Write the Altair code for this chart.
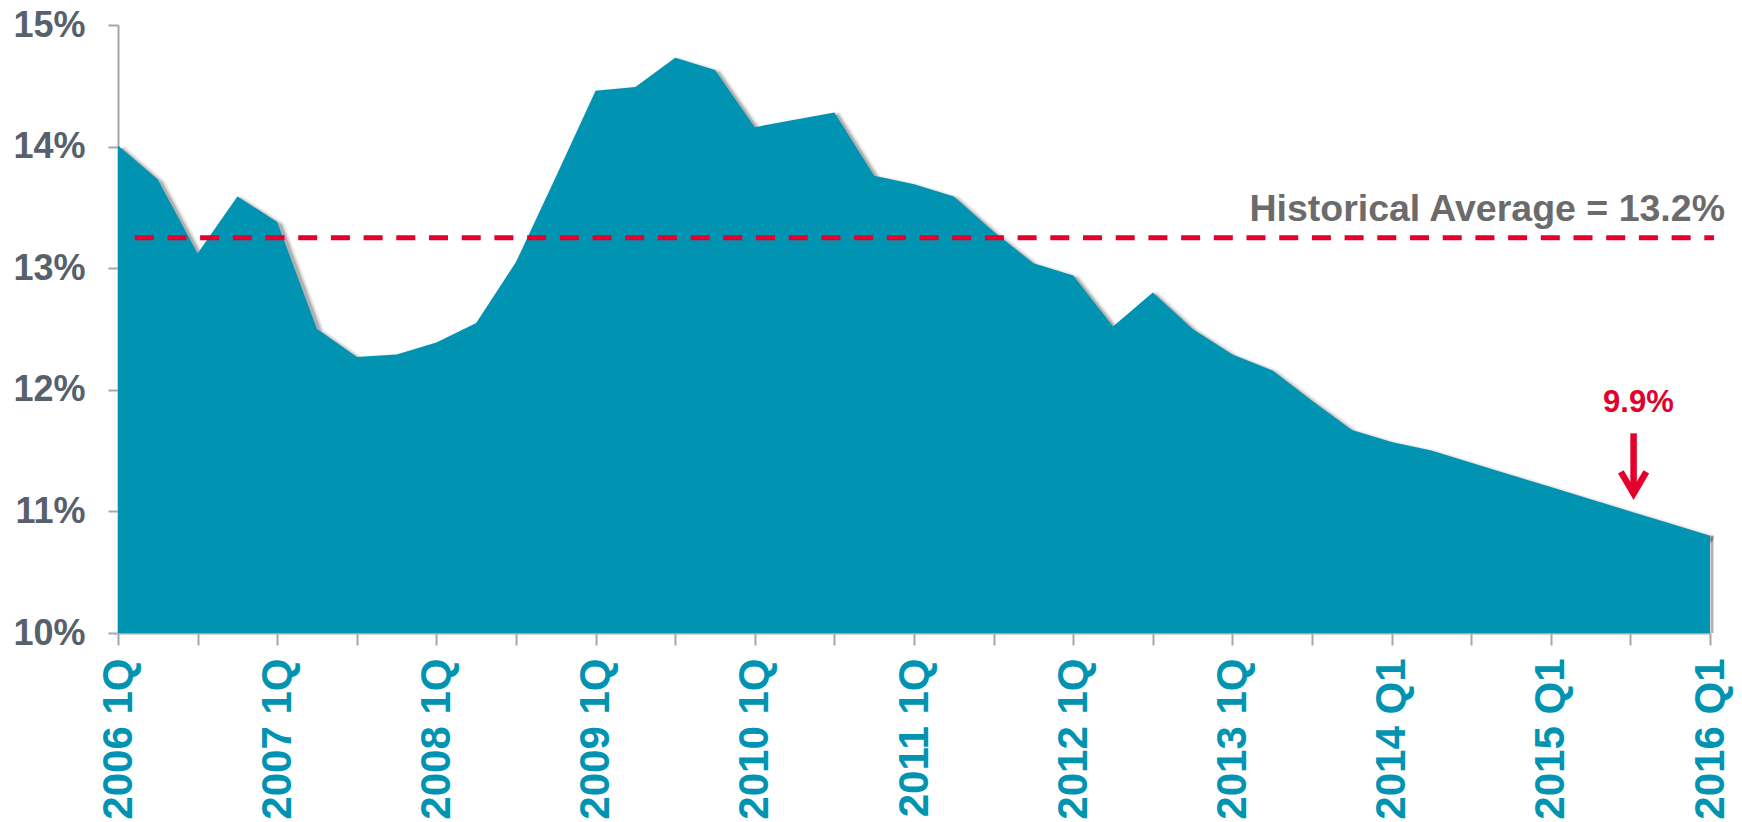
import altair as alt
import pandas as pd

# Quarterly series, 2006 Q1 through 2016 Q1 (percent)
quarter_index = list(range(41))
rate_values = [
    14.01, 13.73, 13.12, 13.59,
    13.38, 12.50, 12.27, 12.29,
    12.39, 12.55, 13.05, 13.75,
    14.46, 14.49, 14.73, 14.63,
    14.16, 14.22, 14.28, 13.76,
    13.69, 13.59, 13.30, 13.04,
    12.94, 12.52, 12.80, 12.50,
    12.29, 12.16, 11.91, 11.67,
    11.57, 11.50, 11.40, 11.30,
    11.20, 11.10, 11.00, 10.90,
    10.80,
]

# Labels shown on the first quarter of each year
year_labels = [
    "2006 1Q", "2007 1Q", "2008 1Q", "2009 1Q", "2010 1Q", "2011 1Q",
    "2012 1Q", "2013 1Q", "2014 Q1", "2015 Q1", "2016 Q1",
]
y_ticks = [10, 11, 12, 13, 14, 15]

historical_avg = 13.25
callout_text = "9.9%"

TEAL = "#0093B2"
RED = "#E4002B"
AXIS_GRAY = "#A6A6A6"
FONT = "Liberation Sans"

series = pd.DataFrame({"q": quarter_index, "rate": rate_values})

# x-axis label expression built from the year label list
label_expr = "''"
for i, lab in reversed(list(enumerate(year_labels))):
    label_expr = f"datum.value == {i * 4} ? '{lab}' : ({label_expr})"

x_enc = alt.X(
    "q:Q",
    scale=alt.Scale(domain=[0, 40], nice=False, zero=False),
    axis=alt.Axis(
        title=None,
        values=quarter_index,
        labelExpr=label_expr,
        labelAngle=-90,
        labelFont=FONT,
        labelFontSize=42,
        labelFontWeight="bold",
        labelColor=TEAL,
        labelPadding=13,
        labelOverlap=False,
        labelFlush=False,
        labelBound=False,
        tickSize=12,
        tickWidth=2,
        tickColor=AXIS_GRAY,
        domainColor=AXIS_GRAY,
        domainWidth=2,
        grid=False,
    ),
)
y_enc = alt.Y(
    "rate:Q",
    scale=alt.Scale(domain=[10, 15], nice=False, zero=False),
    axis=alt.Axis(
        title=None,
        values=y_ticks,
        labelExpr="datum.value + '%'",
        labelFont=FONT,
        labelFontSize=36,
        labelFontWeight="bold",
        labelColor="#56616C",
        labelPadding=23,
        tickSize=10,
        tickWidth=2,
        tickColor=AXIS_GRAY,
        domainColor=AXIS_GRAY,
        domainWidth=2,
        grid=False,
    ),
)

base = alt.Chart(series)

# soft drop shadow under the top edge of the area
shadows = [
    base.mark_line(color="#000000", opacity=op, strokeWidth=sw, xOffset=3, yOffset=4,
                   strokeJoin="round", clip=False).encode(x=x_enc, y=y_enc)
    for sw, op in [(10, 0.06), (7, 0.10), (4, 0.18)]
]

# shadow along the right edge of the area
last_df = pd.DataFrame({"q": [quarter_index[-1]], "rate": [rate_values[-1]]})
edge_shadow = alt.Chart(last_df).mark_rule(
    color="#000000", opacity=0.3, strokeWidth=3, xOffset=2
).encode(x="q:Q", y="rate:Q", y2=alt.datum(10))

area = base.mark_area(color=TEAL, opacity=1).encode(x=x_enc, y=y_enc, y2=alt.datum(10))

avg_df = pd.DataFrame({"start": [0.42], "end": [40.1], "avg": [historical_avg]})
avg_line = alt.Chart(avg_df).mark_rule(
    color=RED, strokeWidth=5, strokeDash=[19, 13.7]
).encode(x="start:Q", x2="end:Q", y="avg:Q")

avg_label_df = pd.DataFrame({
    "q": [40], "y": [13.39],
    "label": [f"Historical Average = {historical_avg:.1f}%"],
})
avg_label = alt.Chart(avg_label_df).mark_text(
    align="right", baseline="alphabetic", dx=15, font=FONT, fontSize=37.5,
    fontWeight="bold", color="#6B6B6B",
).encode(x="q:Q", y="y:Q", text="label:N")

callout_df = pd.DataFrame({"q": [38.2], "y": [11.815], "label": [callout_text]})
callout = alt.Chart(callout_df).mark_text(
    align="center", baseline="alphabetic", font=FONT, fontSize=31,
    fontWeight="bold", color=RED,
).encode(x="q:Q", y="y:Q", text="label:N")

arrow_df = pd.DataFrame({"q": [38.08], "top": [11.642], "bottom": [11.17], "tip": [11.147]})
arrow_shaft = alt.Chart(arrow_df).mark_rule(color=RED, strokeWidth=6.5).encode(
    x="q:Q", y="top:Q", y2="bottom:Q"
)
arrow_head = alt.Chart(arrow_df).mark_point(
    shape="M-1,-1.71L0,0L1,-1.71", filled=False, size=645, strokeWidth=6.5,
    color=RED, opacity=1, strokeJoin="miter",
).encode(x="q:Q", y="tip:Q")

chart = alt.layer(
    *shadows, edge_shadow, area, avg_line, avg_label, callout, arrow_shaft, arrow_head
).properties(
    width=1592,
    height=608,
    autosize=alt.AutoSizeParams(type="none"),
    padding={"left": 118, "top": 25, "right": 32, "bottom": 189},
    background="white",
).configure_view(strokeWidth=0)

chart.save("out.html", embed_options={"renderer": "svg", "actions": False})
